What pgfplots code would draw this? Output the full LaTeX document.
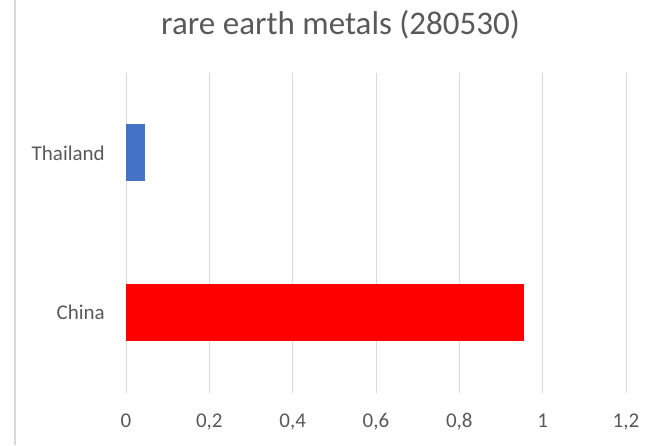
\documentclass[border=0pt]{standalone}
\usepackage{pgfplots}
\pgfplotsset{compat=1.18}
\usepackage{fontspec}
\setmainfont{Carlito}
\definecolor{txt}{HTML}{595959}
\definecolor{grd}{HTML}{D9D9D9}
\definecolor{xblue}{HTML}{4472C4}
\definecolor{xred}{HTML}{FF0000}
\begin{document}
\begin{tikzpicture}
\path[use as bounding box] (0pt,0pt) rectangle (650pt,445pt);
\draw[grd, line width=1.5pt] (15pt,0pt) -- (15pt,445pt);
\node[txt, font=\fontsize{33}{33}\selectfont, anchor=base, inner sep=0] at (340.5pt,410pt) {rare earth metals (280530)};
\begin{axis}[
  at={(126pt,52.3pt)}, anchor=south west, scale only axis,
  width=500pt, height=319.7pt,
  xmin=0, xmax=1.2, ymin=-0.5, ymax=1.5,
  xbar, bar width=57pt,
  ytick={0,1}, yticklabels={China,Thailand},
  xtick={0,0.2,0.4,0.6,0.8,1,1.2},
  xmajorgrids, major grid style={grd, line width=1pt},
  axis line style={draw=none},
  major tick length=0pt, tick style={draw=none},
  /pgf/number format/use comma,
  /pgf/number format/assume math mode=true,
  xticklabel style={font=\fontsize{21}{21}\selectfont, text=txt, anchor=base, inner sep=0pt, yshift=-34.3pt},
  yticklabel style={font=\fontsize{21}{21}\selectfont, text=txt, anchor=east, inner sep=0pt, xshift=-21pt},
]
\addplot[fill=xred, draw=none, bar shift=0pt] coordinates {(0.9545,0)};
\addplot[fill=xblue, draw=none, bar shift=0pt] coordinates {(0.0455,1)};
\end{axis}
\end{tikzpicture}
\end{document}
